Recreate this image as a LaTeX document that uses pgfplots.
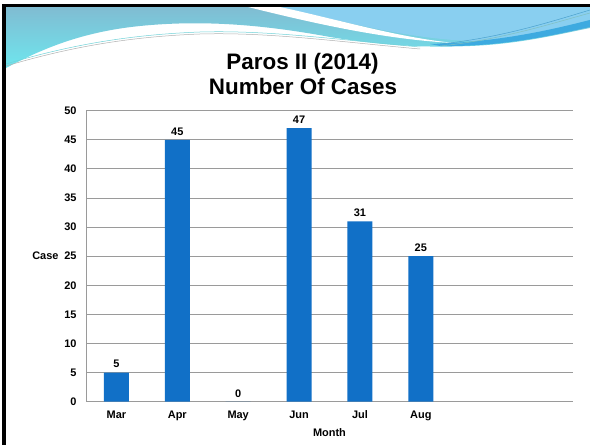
\documentclass[border=0pt]{standalone}
\usepackage{pgfplots}
\pgfplotsset{compat=1.18}
\usepackage{fontspec}
\setmainfont{Liberation Sans}
\definecolor{barblue}{HTML}{1170C7}
\definecolor{gridgray}{HTML}{9A9A9A}
\definecolor{tealtop}{HTML}{80BCD2}
\definecolor{tealbot}{HTML}{6EE6EE}
\definecolor{lightblue}{HTML}{89CFF0}
\definecolor{midblue}{HTML}{3DAAE0}
\begin{document}
\begin{tikzpicture}
\useasboundingbox (0,0) rectangle (590bp,445bp);
\fill[white] (0,0) rectangle (590bp,445bp);
% decorative slide header
\begin{scope}[x=1bp,y=-1bp,yshift=445bp]
  \shade[top color=tealtop,bottom color=tealbot]
    (6,7) -- (590,7) -- (590,28)
    .. controls (560,34) and (520,44) .. (470,46)
    .. controls (420,48) and (380,45) .. (330,37)
    .. controls (260,24) and (200,20) .. (140,26)
    .. controls (80,32) and (40,50) .. (6,68) -- cycle;
  \fill[lightblue] (278,7) .. controls (340,20) and (400,38) .. (470,41)
    .. controls (520,40) and (560,28) .. (590,20) -- (590,7) -- cycle;
  \fill[white] (248,7) .. controls (320,25) and (390,40) .. (455,43)
    .. controls (400,38) and (340,20) .. (280,7) -- cycle;
  \fill[midblue] (430,44) .. controls (500,42) and (550,30) .. (590,20)
    -- (590,27) .. controls (550,36) and (500,47) .. (440,46) -- cycle;
  \draw[gray!60,line width=0.5bp] (6,66) .. controls (60,50) and (120,37) .. (200,34)
    .. controls (270,32) and (340,42) .. (420,49);
  \draw[tealbot!80!gray,line width=0.5bp] (6,64) .. controls (60,48) and (120,35) .. (200,32)
    .. controls (270,30) and (340,40) .. (420,47);
  \draw[midblue!80!gray,line width=0.5bp] (440,44) .. controls (500,38) and (550,22) .. (590,10);
  \draw[teal!50,line width=0.5bp] (440,46) .. controls (500,40) and (550,24) .. (590,13);
  % frame
  \fill[black] (2,4) rectangle (590,7);
  \fill[black] (2,4) rectangle (6,445);
  % title
  \node[font=\fontsize{22.5}{26}\selectfont\bfseries, anchor=base, inner sep=0pt] at (302.5,69.5) {Paros II (2014)};
  \node[font=\fontsize{22.5}{26}\selectfont\bfseries, anchor=base, inner sep=0pt] at (303,95) {Number Of Cases};
\end{scope}
\begin{axis}[
  at={(86bp,43.3bp)}, anchor=south west,
  scale only axis, width=487bp, height=291bp,
  xmin=-0.5, xmax=7.5, ymin=0, ymax=50,
  xtick={0,1,2,3,4,5},
  xticklabels={Mar,Apr,May,Jun,Jul,Aug},
  ytick={0,5,...,50},
  ymajorgrids, grid style={gridgray, line width=0.9bp},
  major tick length=0pt,
  axis x line*=bottom, axis y line*=left,
  axis line style={gridgray, line width=0.9bp, -},
  tick label style={font=\fontsize{11}{13}\selectfont\bfseries},
  /pgf/number format/assume math mode=true,
  yticklabel style={xshift=-6bp},
  xticklabel style={yshift=-5bp, text height=8bp, text depth=2bp},
  xlabel={Month},
  xlabel style={font=\fontsize{11}{13}\selectfont\bfseries, yshift=-1bp},
  ylabel={Case},
  ylabel style={font=\fontsize{11}{13}\selectfont\bfseries, rotate=-90,
    at={(axis description cs:0,0.5)}, anchor=east, xshift=-24bp},
  ybar, bar width=25bp,
  nodes near coords,
  nodes near coords style={font=\fontsize{11}{13}\selectfont\bfseries, yshift=1bp},
  clip=false,
]
\addplot[fill=barblue, draw=none] coordinates {
  (0,5) (1,45) (2,0) (3,47) (4,31) (5,25)
};
\end{axis}
\end{tikzpicture}
\end{document}
